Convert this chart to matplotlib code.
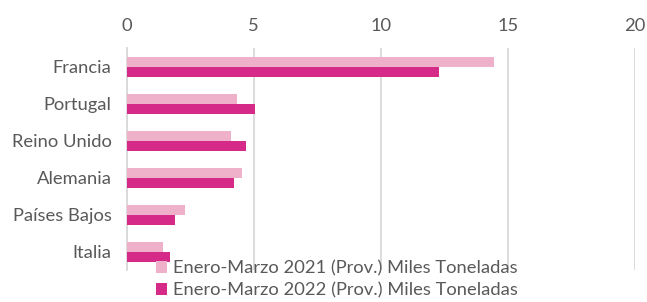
import matplotlib
matplotlib.use('Agg')
from matplotlib import pyplot as plt
import numpy as np

paises = ['Francia', 'Portugal', 'Reino Unido', 'Alemania', 'Países Bajos', 'Italia']
valores_2021 = [14.45, 4.34, 4.09, 4.55, 2.30, 1.43]
valores_2022 = [12.30, 5.04, 4.70, 4.24, 1.91, 1.70]
etiqueta_2021 = 'Enero-Marzo 2021 (Prov.) Miles Toneladas'
etiqueta_2022 = 'Enero-Marzo 2022 (Prov.) Miles Toneladas'

plt.rcParams['font.family'] = ['Lato', 'DejaVu Sans']

fig = plt.figure(figsize=(6.47, 3.02), dpi=100)
ax = fig.add_axes([0.196, 0.105, 0.785, 0.735])

y = np.arange(len(paises))
h = 0.27
ax.barh(y - h / 2, valores_2021, height=h, color='#EFB0C9', label=etiqueta_2021, zorder=3)
ax.barh(y + h / 2, valores_2022, height=h, color='#D62A88', label=etiqueta_2022, zorder=3)

ax.set_ylim(len(paises) - 0.5, -0.5)
ax.set_xlim(0, 20)
ax.set_xticks([0, 5, 10, 15, 20])
ax.set_yticks(y)
ax.set_yticklabels(paises)
ax.xaxis.tick_top()
ax.tick_params(axis='both', length=0, labelsize=13.2, colors='#595959')
ax.tick_params(axis='x', pad=10)
ax.tick_params(axis='y', pad=11)
ax.grid(axis='x', color='#D9D9D9', linewidth=1.3, zorder=0)
for s in ['top', 'right', 'bottom']:
    ax.spines[s].set_visible(False)
ax.spines['left'].set_color('#D9D9D9')
ax.spines['left'].set_linewidth(1.3)

leg = fig.legend(loc='lower left', bbox_to_anchor=(0.222, -0.03), frameon=False,
                 fontsize=13.2, handlelength=0.6, handleheight=0.6, handletextpad=0.3,
                 labelspacing=0.3, borderpad=0.2)
for t in leg.get_texts():
    t.set_color('#595959')

fig.savefig('out.png', dpi=100)
